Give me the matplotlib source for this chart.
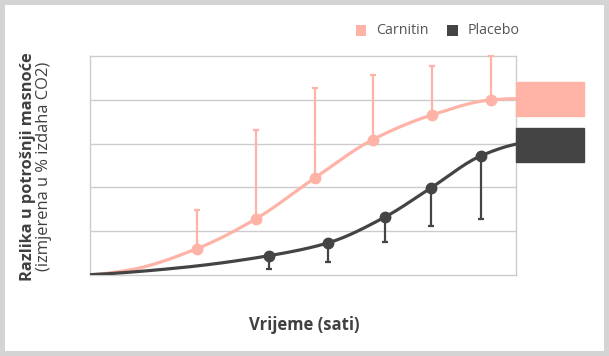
import numpy as np
import matplotlib
matplotlib.use("Agg")
import matplotlib.pyplot as plt
from matplotlib.patches import Rectangle
from matplotlib.transforms import blended_transform_factory

plt.rcParams['font.family'] = ['Open Sans', 'DejaVu Sans']

# ---- data ----
series_names = ["Carnitin", "Placebo"]
carn_x = [1.80, 2.80, 3.80, 4.77, 5.78, 6.77]
carn_y = [0.595, 1.28, 2.22, 3.09, 3.66, 4.00]
carn_hi = [1.48, 3.32, 4.28, 4.58, 4.78, 5.00]
plac_x = [3.02, 4.01, 4.98, 5.76, 6.60]
plac_y = [0.435, 0.725, 1.32, 1.99, 2.72]
plac_lo = [0.13, 0.30, 0.75, 1.12, 1.27]
# curve anchors
carn_curve_x = [0.0, 0.67, 1.80, 2.80, 3.80, 4.77, 5.78, 6.77, 7.2]
carn_curve_y = [0.0, 0.11, 0.595, 1.28, 2.22, 3.09, 3.66, 4.00, 4.03]
plac_curve_x = [0.0, 1.52, 3.02, 4.01, 4.98, 5.76, 6.60, 7.2]
plac_curve_y = [0.0, 0.16, 0.435, 0.725, 1.32, 1.99, 2.72, 2.99]
end_carn = 4.02
end_plac = 2.97

PINK = "#ffb3a7"
DARK = "#444444"


def pchip(xk, yk, xs):
    xk = np.asarray(xk, float); yk = np.asarray(yk, float)
    h = np.diff(xk); d = np.diff(yk) / h
    n = len(xk); m = np.zeros(n)
    for i in range(1, n - 1):
        if d[i - 1] * d[i] > 0:
            w1 = 2 * h[i] + h[i - 1]; w2 = h[i] + 2 * h[i - 1]
            m[i] = (w1 + w2) / (w1 / d[i - 1] + w2 / d[i])
    m[0] = max(0.0, ((2 * h[0] + h[1]) * d[0] - h[0] * d[1]) / (h[0] + h[1]))
    m[-1] = max(0.0, ((2 * h[-1] + h[-2]) * d[-1] - h[-1] * d[-2]) / (h[-1] + h[-2]))
    out = np.empty_like(xs)
    idx = np.clip(np.searchsorted(xk, xs) - 1, 0, n - 2)
    for j, x in enumerate(xs):
        i = idx[j]; t = (x - xk[i]) / h[i]
        h00 = 2 * t**3 - 3 * t**2 + 1; h10 = t**3 - 2 * t**2 + t
        h01 = -2 * t**3 + 3 * t**2; h11 = t**3 - t**2
        out[j] = h00 * yk[i] + h10 * h[i] * m[i] + h01 * yk[i + 1] + h11 * h[i] * m[i + 1]
    return out


W, H = 609, 356
fig = plt.figure(figsize=(W / 100, H / 100), dpi=100)
fig.patch.set_facecolor("#d4d4d4")
fig.patches.append(Rectangle((5 / W, 5 / H), 599 / W, 346 / H, transform=fig.transFigure,
                             facecolor="white", edgecolor="none", zorder=-10))

ax = fig.add_axes([90.3 / W, 81.3 / H, 426 / W, 218.4 / H])
ax.set_zorder(2)
ax.set_xlim(0, 7.2)
ax.set_ylim(0, 5)
ax.set_facecolor("none")
for s in ax.spines.values():
    s.set_color("#cccccc"); s.set_linewidth(1.0)
ax.set_xticks([]); ax.set_yticks([1, 2, 3, 4])
ax.tick_params(axis='y', length=0, labelleft=False)
ax.grid(axis='y', color="#cccccc", linewidth=1.0)

xs = np.linspace(0, 7.2, 400)
ax.plot(xs, pchip(carn_curve_x, carn_curve_y, xs), color=PINK, lw=2.3, zorder=3)
ax.plot(xs, pchip(plac_curve_x, plac_curve_y, xs), color=DARK, lw=2.3, zorder=3)

cy = np.array(carn_y); py = np.array(plac_y)
ax.errorbar(carn_x, carn_y, yerr=[np.zeros_like(cy), np.array(carn_hi) - cy], fmt='o',
            color=PINK, ms=7.5, elinewidth=1.6, capsize=2.2, capthick=1.6, zorder=4, clip_on=False)
ax.errorbar(plac_x, plac_y, yerr=[py - np.array(plac_lo), np.zeros_like(py)], fmt='o',
            color=DARK, ms=7.5, elinewidth=1.6, capsize=2.2, capthick=1.6, zorder=4, clip_on=False)

tr = blended_transform_factory(ax.transAxes, ax.transData)
bh = 0.78
bw = (584 - 516.3) / 426
ax.add_patch(Rectangle((1.0, end_carn - bh / 2), bw, bh, transform=tr, color=PINK, clip_on=False, zorder=5))
ax.add_patch(Rectangle((1.0, end_plac - bh / 2), bw, bh, transform=tr, color=DARK, clip_on=False, zorder=5))

# legend
for (xpx, name, col) in [(356, series_names[0], PINK), (447, series_names[1], DARK)]:
    fig.patches.append(Rectangle((xpx / W, (H - 35.5) / H), 10.5 / W, 10.5 / H,
                                 transform=fig.transFigure, facecolor=col, edgecolor="none"))
    fig.text((xpx + 20.5) / W, (H - 30.5) / H, name, fontsize=10.3, color="#555555",
             ha="left", va="center")

# axis labels
fig.text(304.5 / W, (H - 325.5) / H, "Vrijeme (sati)", fontsize=12, fontweight="bold",
         color="#404040", ha="center", va="center")
fig.text(28.5 / W, (H - 166.7) / H, "Razlika u potrošnji masnoće", fontsize=11.8,
         fontweight="bold", color="#404040", ha="center", va="center", rotation=90)
fig.text(44 / W, (H - 166.5) / H, "(izmjerena u % izdaha CO2)", fontsize=11.9,
         color="#404040", ha="center", va="center", rotation=90)

fig.savefig("out.png", dpi=100, facecolor=fig.get_facecolor())
